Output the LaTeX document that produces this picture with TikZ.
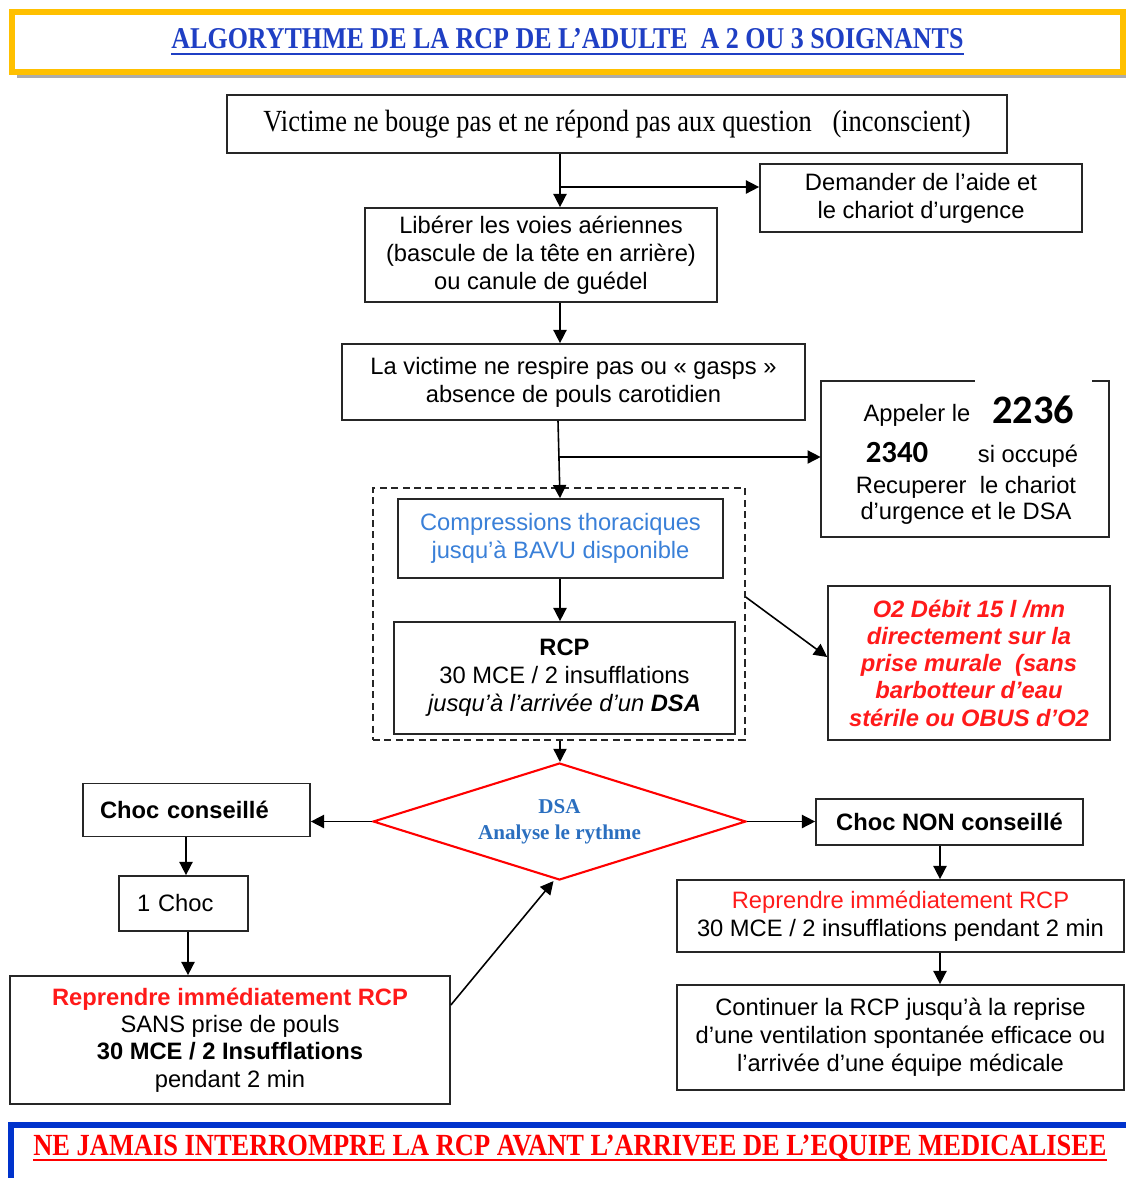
\documentclass[tikz,border=0pt]{standalone}
\usepackage{fontspec}
\setmainfont{Liberation Sans}
\newfontfamily\condserif[FakeStretch=0.86]{Liberation Serif}
\newfontfamily\plainserif{Liberation Serif}
\newfontfamily\calibfont{Carlito}
\usetikzlibrary{arrows.meta, calc, shapes.geometric, positioning}

\definecolor{titleblue}{HTML}{1F3FC4}
\definecolor{frameorange}{HTML}{FFC000}
\definecolor{bannerblue}{HTML}{0033CC}
\definecolor{compblue}{HTML}{3A80D8}
\definecolor{dsablue}{HTML}{2B6FBF}
\definecolor{alertred}{HTML}{FF1A1A}

% thick underline for the two banners
\newsavebox{\ulbox}
\newcommand{\heavyul}[1]{\sbox{\ulbox}{#1}\usebox{\ulbox}\llap{\rule[-3.5pt]{\wd\ulbox}{1.4pt}}}

\tikzset{
  stepbox/.style={draw=black!85, line width=1pt, align=center, inner sep=2pt, font=\fontsize{13.5pt}{16pt}\selectfont},
  calltext/.style={inner sep=0pt, font=\fontsize{13.5pt}{16pt}\selectfont},
  arr/.style={-{Triangle[length=7.5pt,width=7.5pt]}, line width=0.9pt},
}

\begin{document}
\begin{tikzpicture}[x=0.02cm, y=-0.02cm]
	\useasboundingbox (0,0) rectangle (1126,1178);
	
	% Definitions
	\coordinate (trunk) at (560,0);
	\coordinate (fork1) at (560,187);
	\coordinate (fork2) at (558,457);
	
	% Title
	\fill[gray!65] (17,18) rectangle (1130,78);
	\node[draw=frameorange, line width=3.4pt, fill=white, minimum width=22.22cm, minimum height=1.2cm] (title) at (567.5,42)
		{\condserif\bfseries\fontsize{17.2pt}{20pt}\selectfont\color{titleblue}\heavyul{ALGORYTHME DE LA RCP DE L’ADULTE\ \ A 2 OU 3 SOIGNANTS}};
	
	% Top of the chain
	\node[stepbox, minimum width=15.6cm, minimum height=1.16cm, font=\condserif\fontsize{17.5pt}{20pt}\selectfont] (victim) at (617,124)
		{Victime ne bouge pas et ne répond pas aux question\hspace{8pt} (inconscient)};
	\node[stepbox, minimum width=6.44cm, minimum height=1.36cm] (help) at (921,198) {Demander de l'aide et\\le chariot d'urgence};
	\node[stepbox, minimum width=7.04cm, minimum height=1.88cm] (airway) at (541,255) {Libérer les voies aériennes\\(bascule de la tête en arrière)\\ou canule de guédel};
	\node[stepbox, minimum width=9.26cm, minimum height=1.52cm] (breath) at (573.5,382) {La victime ne respire pas ou « gasps »\\absence de pouls carotidien};
	
	% Call box (top border broken by the number)
	\node[minimum width=5.76cm, minimum height=3.12cm] (call) at (965,459) {};
	\draw[line width=1pt, black!85] ($(call.north west)+(154,0)$) -- (call.north west) -- (call.south west) -- (call.south east) -- (call.north east) -- ($(call.north east)+(-17,0)$);
	\node[calltext] (callA) at (917,415) {Appeler le};
	\node[calltext, font=\calibfont\bfseries\fontsize{23pt}{26pt}\selectfont] (callB) at (1033,410) {2236};
	\node[calltext, font=\calibfont\bfseries\fontsize{17.5pt}{20pt}\selectfont] (callC) at (897,453) {2340};
	\node[calltext] (callD) at (1028,456) {si occupé};
	\node[calltext] (callE) at (966,487) {Recuperer\ \ le chariot};
	\node[calltext] (callF) at (966,513) {d'urgence et le DSA};
	
	% CPR zone
	\node[draw=black!85, line width=0.8pt, dash pattern=on 4pt off 2.5pt, minimum width=7.44cm, minimum height=5.04cm] (cprzone) at (559,614) {};
	\node[stepbox, text=compblue, minimum width=6.5cm, minimum height=1.58cm] (chest) at (560.5,538.5) {Compressions thoraciques\\jusqu'à BAVU disponible};
	\node[stepbox, minimum width=6.82cm, minimum height=2.24cm] (rcp) at (564.5,678) {\textbf{RCP}\\30 MCE / 2 insufflations\\\textit{jusqu'à l'arrivée d'un \textbf{DSA}}};
	\node[stepbox, text=alertred, font=\bfseries\itshape\fontsize{13.5pt}{15.5pt}\selectfont, minimum width=5.64cm, minimum height=3.08cm] (oxygen) at (969,663)
		{O2 Débit 15 l /mn\\directement sur la\\prise murale\ \ (sans\\barbotteur d'eau\\stérile ou OBUS d'O2};
	
	% Analysis
	\node[diamond, aspect=3.2, draw=red, line width=1.2pt, inner sep=0pt, minimum width=7.46cm, minimum height=2.34cm, align=center, text=dsablue,
		font=\plainserif\bfseries\fontsize{12pt}{15pt}\selectfont] (dsa) at (559.5,821.5) {DSA\\Analyse le rythme};
	
	% Shock side
	\node[stepbox, font=\bfseries\fontsize{13.5pt}{16pt}\selectfont, align=left, text width=3.86cm, inner xsep=0.34cm, minimum height=1.06cm] (shock) at (196.5,810) {Choc conseillé};
	\node[stepbox, align=left, text width=1.86cm, inner xsep=0.36cm, minimum height=1.1cm] (oneshock) at (183.5,903.5) {1 Choc};
	\node[stepbox, minimum width=8.8cm, minimum height=2.56cm, font=\fontsize{13.5pt}{15.5pt}\selectfont] (resume) at (230,1040)
		{\textcolor{alertred}{\textbf{Reprendre immédiatement RCP}}\\SANS prise de pouls\\\textbf{30 MCE / 2 Insufflations}\\pendant 2 min};
	
	% No shock side
	\node[stepbox, font=\bfseries\fontsize{13.5pt}{16pt}\selectfont, minimum width=5.34cm, minimum height=0.92cm] (noshock) at (949.5,822) {Choc NON conseillé};
	\node[stepbox, minimum width=8.94cm, minimum height=1.44cm] (resumeb) at (900.5,916) {\textcolor{alertred}{Reprendre immédiatement RCP}\\30 MCE / 2 insufflations pendant 2 min};
	\node[stepbox, minimum width=8.94cm, minimum height=2.1cm] (carry) at (900.5,1037.5) {Continuer la RCP jusqu'à la reprise\\d'une ventilation spontanée efficace ou\\l'arrivée d'une équipe médicale};
	
	% Connectors
	\draw[arr] (victim.south -| trunk) -- (airway.north -| trunk);
	\draw[arr] (fork1) -- (help.west |- fork1);
	\draw[arr] (airway.south -| trunk) -- (breath.north -| trunk);
	\draw[arr] (breath.south -| fork2) -- (chest.north -| trunk);
	\draw[arr] (fork2) -- (call.west |- fork2);
	\draw[arr] (chest.south -| trunk) -- (rcp.north -| trunk);
	\draw[arr] (cprzone.south -| trunk) -- (dsa.north -| trunk);
	\draw[arr] ([yshift=0.34cm]cprzone.east) -- ([yshift=0.12cm]oxygen.west);
	\draw[arr] (dsa.west) -- (shock.east |- dsa.west);
	\draw[arr] (shock.south -| 186,0) -- (oneshock.north -| 186,0);
	\draw[arr] (oneshock.south -| 188,0) -- (resume.north -| 188,0);
	\draw[arr] ([yshift=0.7cm]resume.east) -- ([xshift=-0.12cm]dsa.south);
	\draw[arr] (dsa.east) -- (noshock.west |- dsa.east);
	\draw[arr] (noshock.south -| 940,0) -- (resumeb.north -| 940,0);
	\draw[arr] (resumeb.south -| 940,0) -- (carry.north -| 940,0);
	
	% Bottom banner
	\draw[bannerblue, line width=3.4pt] (11,1230) -- (11,1125) -- (1135,1125);
	\node (banner) at (570,1148)
		{\condserif\bfseries\fontsize{17.5pt}{20pt}\selectfont\color{red}\heavyul{NE JAMAIS INTERROMPRE LA RCP AVANT L’ARRIVEE DE L’EQUIPE MEDICALISEE}};
\end{tikzpicture}
\end{document}
